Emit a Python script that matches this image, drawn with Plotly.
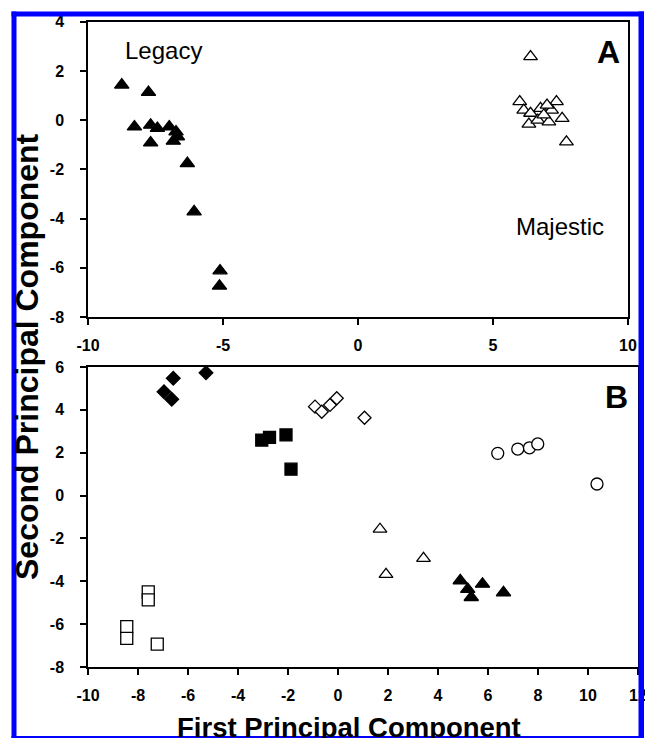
import plotly.graph_objects as go

W, H = 645, 738

# ---------------- data ----------------
# Panel A
legacy_x = [-8.75, -7.76, -8.28, -7.68, -7.43, -6.99, -6.74, -6.69, -6.84, -7.68, -6.32, -6.07, -5.11, -5.13]
legacy_y = [1.43, 1.13, -0.27, -0.20, -0.33, -0.27, -0.47, -0.67, -0.85, -0.92, -1.76, -3.72, -6.12, -6.74]
majestic_x = [6.39, 5.99, 6.14, 6.39, 6.33, 6.76, 6.66, 7.07, 7.35, 7.17, 7.56, 7.72, 6.88, 7.00]
majestic_y = [2.58, 0.75, 0.41, 0.28, -0.16, 0.48, 0.00, -0.07, 0.75, 0.41, 0.07, -0.88, 0.21, 0.61]

# Panel B
fdia_x = [-6.59, -5.28, -6.96, -6.65]
fdia_y = [5.47, 5.73, 4.85, 4.49]
fsq_x = [-3.05, -2.74, -2.08, -1.88]
fsq_y = [2.59, 2.72, 2.83, 1.23]
osq_x = [-7.59, -7.59, -8.45, -8.45, -7.23]
osq_y = [-4.49, -4.87, -6.12, -6.66, -6.93]
odia_x = [-0.92, -0.65, -0.32, -0.05, 1.06]
odia_y = [4.15, 3.91, 4.23, 4.54, 3.63]
ocir_x = [6.39, 7.19, 7.66, 7.99, 10.36]
ocir_y = [1.97, 2.17, 2.23, 2.41, 0.54]
otri_x = [1.68, 1.92, 3.42]
otri_y = [-1.57, -3.68, -2.93]
ftri_x = [4.89, 5.19, 5.33, 5.78, 6.62]
ftri_y = [-3.97, -4.37, -4.75, -4.13, -4.53]

# tick labels
a_xticks = [-10, -5, 0, 5, 10]
a_xlabels = ["-10", "-5", "0", "5", "10"]
a_yticks = [-8, -6, -4, -2, 0, 2, 4]
a_ylabels = ["-8", "-6", "-4", "-2", "0", "2", "4"]
b_xticks = [-10, -8, -6, -4, -2, 0, 2, 4, 6, 8, 10, 12]
b_xlabels = ["-10", "-8", "-6", "-4", "-2", "0", "2", "4", "6", "8", "10", "12"]
b_yticks = [-8, -6, -4, -2, 0, 2, 4, 6]
b_ylabels = ["-8", "-6", "-4", "-2", "0", "2", "4", "6"]

FONT = "Liberation Sans, Arial, Helvetica, sans-serif"


def px(x):
    return x / W


def py(y):
    return 1 - y / H


def bold(labels):
    return ["<b>%s</b>" % s for s in labels]


fig = go.Figure()


def add(xs, ys, sym, size, filled, xa, ya):
    fig.add_trace(go.Scatter(
        x=xs, y=ys, mode="markers", xaxis=xa, yaxis=ya,
        marker=dict(symbol=sym, size=size,
                    color="black" if filled else "white",
                    line=dict(color="black", width=1.3)),
        showlegend=False, hoverinfo="skip", cliponaxis=False))


add(legacy_x, legacy_y, "triangle-up", 12.5, True, "x", "y")
add(majestic_x, majestic_y, "triangle-up", 12, False, "x", "y")

add(fdia_x, fdia_y, "diamond", 10.5, True, "x2", "y2")
add(fsq_x, fsq_y, "square", 12, True, "x2", "y2")
add(osq_x, osq_y, "square", 12, False, "x2", "y2")
add(odia_x, odia_y, "diamond", 10, False, "x2", "y2")
add(ocir_x, ocir_y, "circle", 12, False, "x2", "y2")
add(otri_x, otri_y, "triangle-up", 12, False, "x2", "y2")
add(ftri_x, ftri_y, "triangle-up", 12.5, True, "x2", "y2")

axis_common = dict(
    showgrid=False, zeroline=False, showline=True, mirror=True,
    linecolor="black", linewidth=1.5, ticks="outside", ticklen=6,
    tickwidth=1.5, tickcolor="black", automargin=False,
    tickfont=dict(family=FONT, size=16, color="black", weight="bold"),
    tickmode="array", ticklabeloverflow="allow",
)

fig.update_layout(
    template="none",
    width=W, height=H,
    margin=dict(l=0, r=0, t=0, b=0, pad=0),
    paper_bgcolor="white", plot_bgcolor="white",
    xaxis=dict(domain=[px(88), px(628)], range=[-10, 10], anchor="y",
               tickvals=a_xticks, ticktext=bold(a_xlabels), ticklabelstandoff=7, **axis_common),
    yaxis=dict(domain=[py(317), py(21.7)], range=[-8, 4], anchor="x",
               tickvals=a_yticks, ticktext=bold(a_ylabels), ticklabelstandoff=13, **axis_common),
    xaxis2=dict(domain=[px(88), px(638)], range=[-10, 12], anchor="y2",
                tickvals=b_xticks, ticktext=bold(b_xlabels), ticklabelstandoff=7, **axis_common),
    yaxis2=dict(domain=[py(667), py(367)], range=[-8, 6], anchor="x2",
                tickvals=b_yticks, ticktext=bold(b_ylabels), ticklabelstandoff=13, **axis_common),
)

common_ann = dict(xref="paper", yref="paper", showarrow=False,
                  xanchor="center", yanchor="middle")
ann = [
    dict(text="Legacy", x=px(163), y=py(51),
         font=dict(family=FONT, size=24, color="black"), **common_ann),
    dict(text="Majestic", x=px(560), y=py(226),
         font=dict(family=FONT, size=24, color="black"), **common_ann),
    dict(text="<b>A</b>", x=px(608), y=py(52),
         font=dict(family=FONT, size=32, color="black"), **common_ann),
    dict(text="<b>B</b>", x=px(616), y=py(397),
         font=dict(family=FONT, size=32, color="black"), **common_ann),
    dict(text="<b>Second Principal Component</b>", x=px(27), y=py(357), textangle=-90,
         font=dict(family=FONT, size=32, color="black"), **common_ann),
    dict(text="<b>First Principal Component</b>", x=px(349), y=py(727),
         font=dict(family=FONT, size=27.5, color="black"), **common_ann),
]
fig.update_layout(annotations=ann)

blue = "#0000ff"
shapes = [
    dict(type="rect", xref="paper", yref="paper", x0=px(11.5), x1=px(644), y0=py(16.5), y1=py(11.5)),
    dict(type="rect", xref="paper", yref="paper", x0=px(11.5), x1=px(16.5), y0=py(738), y1=py(11.5)),
    dict(type="rect", xref="paper", yref="paper", x0=px(638.5), x1=px(644), y0=py(738), y1=py(11.5)),
    dict(type="rect", xref="paper", yref="paper", x0=px(11.5), x1=px(644), y0=py(738), y1=py(736)),
]
for s in shapes:
    s.update(fillcolor=blue, line=dict(width=0), layer="above")
fig.update_layout(shapes=shapes)

fig.write_html("out.html")
